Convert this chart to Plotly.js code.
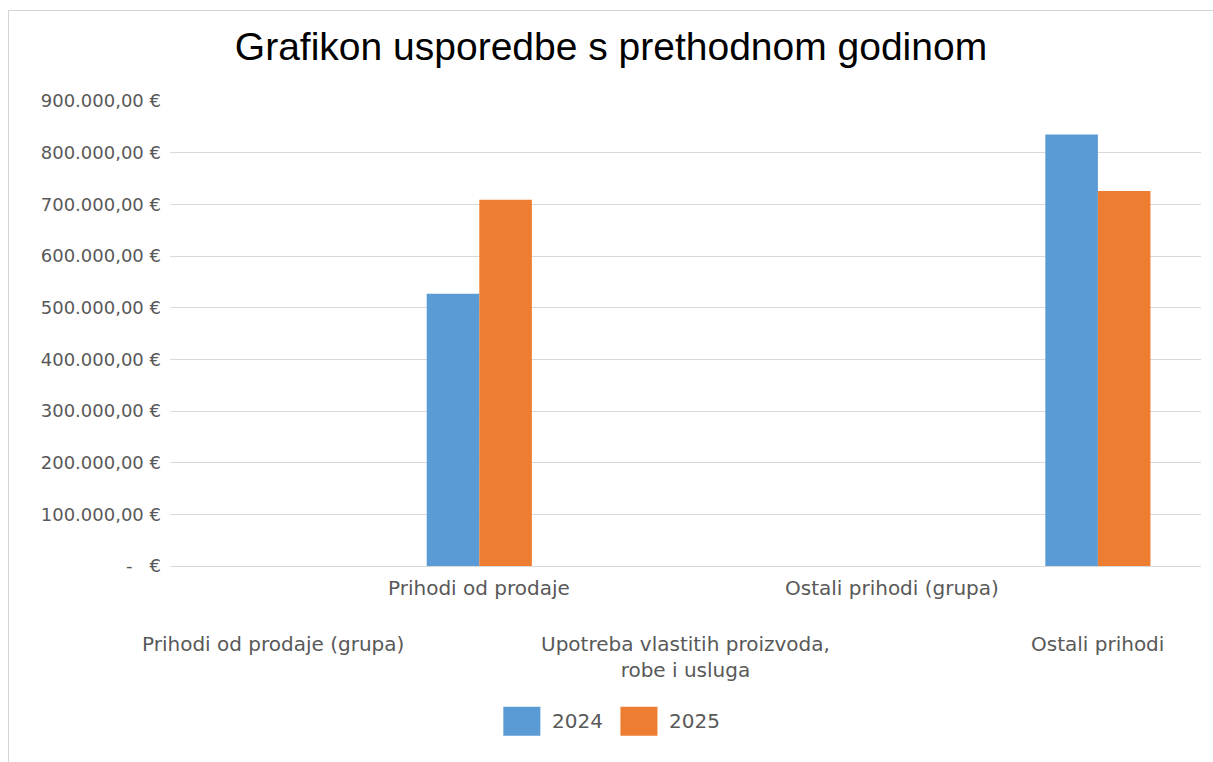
<!DOCTYPE html>
<html>
<head>
<meta charset="utf-8">
<script src="https://cdn.plot.ly/plotly-3.0.1.min.js"></script>
<style>
  html, body { margin: 0; padding: 0; background: #ffffff; }
  #frame { position: absolute; left: 8px; top: 10px; width: 1205px; height: 752px;
           border-left: 1px solid #d4d4d4; border-top: 1px solid #d4d4d4; box-sizing: border-box; }
  #chart { width: 100%; height: 100%; }
</style>
</head>
<body>
<div id="frame"><div id="chart"></div></div>
<script>
// ---- data ----
const categories = [
  "Prihodi od prodaje (grupa)",
  "Prihodi od prodaje",
  "Upotreba vlastitih proizvoda, robe i usluga",
  "Ostali prihodi (grupa)",
  "Ostali prihodi"
];
const categoryLabels = [
  "Prihodi od prodaje (grupa)",
  "Prihodi od prodaje",
  "Upotreba vlastitih proizvoda,<br>robe i usluga",
  "Ostali prihodi (grupa)",
  "Ostali prihodi"
];
const seriesNames = ["2024", "2025"];
const values2024 = [null, 527000, null, null, 835000];
const values2025 = [null, 709000, null, null, 726000];
const yTickValues = [0, 100000, 200000, 300000, 400000, 500000, 600000, 700000, 800000, 900000];
const yTickLabels = ["-\u00a0\u00a0\u00a0€", "100.000,00 €", "200.000,00 €", "300.000,00 €", "400.000,00 €",
                     "500.000,00 €", "600.000,00 €", "700.000,00 €", "800.000,00 €", "900.000,00 €"];

const colors = ["#5B9BD5", "#ED7D31"];
const fontFamily = "DejaVu Sans, Verdana, sans-serif";
const labelFont = { family: fontFamily, size: 20, color: "#595959" };

const traces = [values2024, values2025].map((vals, i) => ({
  type: "bar",
  name: seriesNames[i],
  x: categories,
  y: vals,
  marker: { color: colors[i] },
  showlegend: false,
  hoverinfo: "x+y+name"
}));

// staggered category labels (alternating rows, as in the original)
const annotations = categories.map((c, i) => ({
  x: c, xref: "x",
  y: 0, yref: "paper",
  yanchor: "top", xanchor: "center",
  yshift: (i % 2 === 1) ? -8 : -64,
  text: categoryLabels[i],
  showarrow: false,
  align: "center",
  font: labelFont
}));

// legend drawn below the plot (large swatches, as in the original)
const plotW = 1030, plotH = 464;          // plot area size in px
const px = d => d / plotW;                // px offset -> paper x
const py = d => d / plotH;                // px offset -> paper y
const legendY = -py(155);                 // centre line of legend
const legendStartX = px(333);
const swatchW = 37, swatchH = 29, itemStep = 117, textGap = 10;
const shapes = [];
seriesNames.forEach((name, i) => {
  const x0 = legendStartX + px(i * itemStep);
  shapes.push({
    type: "rect", xref: "paper", yref: "paper",
    x0: x0, x1: x0 + px(swatchW),
    y0: legendY - py(swatchH / 2), y1: legendY + py(swatchH / 2),
    fillcolor: colors[i], line: { width: 0 }
  });
  annotations.push({
    x: x0 + px(swatchW + textGap), xref: "paper",
    y: legendY, yref: "paper",
    xanchor: "left", yanchor: "middle",
    text: name, showarrow: false,
    font: labelFont
  });
});

const layout = {
  width: 1204, height: 751,
  margin: { l: 161, r: 12, t: 90, b: 196 },
  paper_bgcolor: "#ffffff",
  plot_bgcolor: "#ffffff",
  showlegend: false,
  title: {
    text: "Grafikon usporedbe s prethodnom godinom",
    font: { family: "Liberation Sans, Arial, sans-serif", size: 39, color: "#000000" },
    x: 0.5, xanchor: "center", xref: "container",
    y: 1, yref: "container", yanchor: "top", pad: { t: 22 }
  },
  barmode: "group",
  bargap: 0.49,
  bargroupgap: 0,
  xaxis: {
    type: "category",
    range: [-0.5, 4.5],
    showticklabels: false,
    showgrid: false,
    zeroline: false,
    showline: false,
    ticks: ""
  },
  yaxis: {
    range: [0, 900000],
    tickvals: yTickValues,
    ticktext: yTickLabels,
    tickfont: { family: fontFamily, size: 18, color: "#595959" },
    showgrid: true,
    gridcolor: "#d9d9d9",
    gridwidth: 1,
    zeroline: true,
    zerolinecolor: "#d9d9d9",
    zerolinewidth: 1,
    showline: false,
    ticks: "",
    ticklabelstandoff: 8
  },
  shapes: shapes,
  annotations: annotations
};

Plotly.newPlot("chart", traces, layout, { displayModeBar: false, responsive: false });
</script>
</body>
</html>
